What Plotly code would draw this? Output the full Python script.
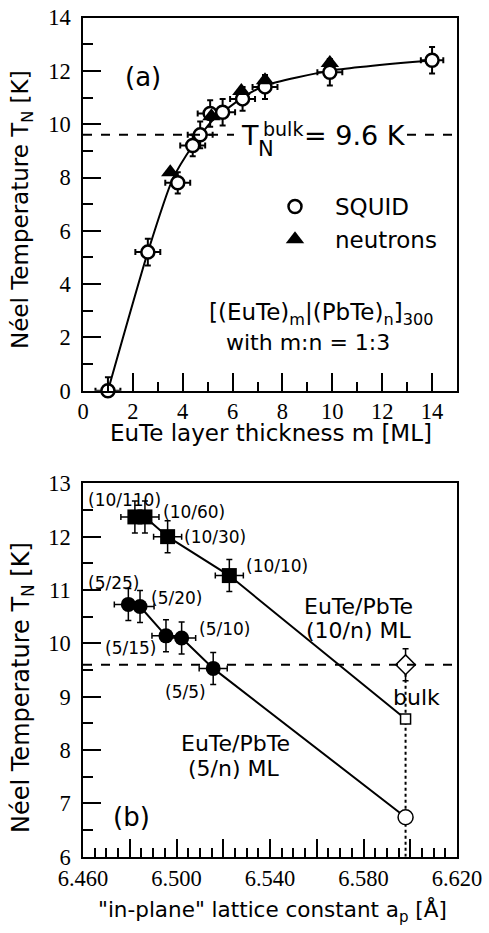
import plotly.graph_objects as go
import numpy as np

# ---------------- data: panel (a) ----------------
squid_m = [1.0, 2.6, 3.8, 4.4, 4.7, 5.1, 5.6, 6.4, 7.3, 9.9, 14.0]
squid_T = [0.0, 5.2, 7.8, 9.2, 9.6, 10.4, 10.45, 10.95, 11.4, 11.95, 12.4]
squid_xerr = [0.5, 0.5, 0.5, 0.5, 0.5, 0.5, 0.5, 0.5, 0.5, 0.5, 0.45]
squid_yerr = [0.5, 0.5, 0.4, 0.4, 0.5, 0.5, 0.5, 0.45, 0.45, 0.5, 0.5]
squid_yerr_minus = [0.0, 0.5, 0.4, 0.4, 0.5, 0.5, 0.5, 0.45, 0.45, 0.5, 0.5]

neut_m = [3.5, 5.15, 6.35, 7.3, 9.9]
neut_T = [8.2, 10.3, 11.25, 11.65, 12.3]

guide_m = [1.0, 2.6, 3.6, 4.4, 4.8, 5.2, 5.6, 6.4, 7.3, 10.0, 14.0]
guide_T = [0.0, 5.2, 7.95, 9.2, 9.7, 10.15, 10.45, 11.0, 11.45, 12.02, 12.4]

bulk_TN = 9.6

# ---------------- data: panel (b) ----------------
sq_a = [6.4822, 6.4865, 6.4962, 6.5226]
sq_T = [12.37, 12.37, 12.0, 11.27]
sq_labels = ["(10/110)", "(10/60)", "(10/30)", "(10/10)"]

ci_a = [6.4794, 6.4844, 6.4955, 6.5022, 6.5157]
ci_T = [10.73, 10.69, 10.14, 10.10, 9.53]
ci_labels = ["(5/25)", "(5/20)", "(5/15)", "(5/10)", "(5/5)"]

b_xerr = 0.006
b_yerr = 0.3

bulk_a = 6.598
bulk_sq_T = 8.58   # extrapolated (10/n)
bulk_ci_T = 6.74   # extrapolated (5/n)

x2_labeled = [6.46, 6.50, 6.54, 6.58, 6.62]
x2_unlabeled = [6.48, 6.52, 6.56, 6.60]

W, H = 489, 933
SANS = "DejaVu Sans"
SERIF = "Liberation Serif"


def px(x):
    return x / W


def py(y):
    return 1 - y / H


fig = go.Figure()

# ---- panel (a) ----
fig.add_trace(go.Scatter(x=guide_m, y=guide_T, mode="lines",
                         line=dict(color="black", width=2, shape="spline", smoothing=0.6),
                         showlegend=False, xaxis="x", yaxis="y", hoverinfo="skip"))
fig.add_trace(go.Scatter(x=squid_m, y=squid_T, mode="markers", name="SQUID",
                         marker=dict(symbol="circle", size=13, color="white",
                                     line=dict(color="black", width=2.5)),
                         error_x=dict(type="data", array=squid_xerr, color="black", thickness=2, width=3),
                         error_y=dict(type="data", array=squid_yerr, arrayminus=squid_yerr_minus,
                                      color="black", thickness=2, width=3),
                         cliponaxis=False, xaxis="x", yaxis="y"))
fig.add_trace(go.Scatter(x=neut_m, y=neut_T, mode="markers", name="neutrons",
                         marker=dict(symbol="triangle-up", size=16, color="black"),
                         xaxis="x", yaxis="y"))

# ---- panel (b) ----
fig.add_trace(go.Scatter(x=sq_a + [bulk_a], y=sq_T + [bulk_sq_T], mode="lines",
                         line=dict(color="black", width=2), showlegend=False,
                         xaxis="x2", yaxis="y2", hoverinfo="skip"))
fig.add_trace(go.Scatter(x=ci_a + [bulk_a], y=ci_T + [bulk_ci_T], mode="lines",
                         line=dict(color="black", width=2), showlegend=False,
                         xaxis="x2", yaxis="y2", hoverinfo="skip"))
fig.add_trace(go.Scatter(x=[bulk_a, bulk_a], y=[6, bulk_TN], mode="lines",
                         line=dict(color="black", width=2, dash="dot"), showlegend=False,
                         xaxis="x2", yaxis="y2", hoverinfo="skip", cliponaxis=False))
fig.add_trace(go.Scatter(x=sq_a, y=sq_T, mode="markers", showlegend=False,
                         marker=dict(symbol="square", size=15, color="black"),
                         error_x=dict(type="constant", value=b_xerr, color="black", thickness=1.5, width=3),
                         error_y=dict(type="constant", value=b_yerr, color="black", thickness=1.5, width=3),
                         xaxis="x2", yaxis="y2"))
fig.add_trace(go.Scatter(x=ci_a, y=ci_T, mode="markers", showlegend=False,
                         marker=dict(symbol="circle", size=15, color="black"),
                         error_x=dict(type="constant", value=b_xerr, color="black", thickness=1.5, width=3),
                         error_y=dict(type="constant", value=b_yerr, color="black", thickness=1.5, width=3),
                         xaxis="x2", yaxis="y2"))
fig.add_trace(go.Scatter(x=[bulk_a], y=[bulk_TN], mode="markers", showlegend=False,
                         marker=dict(symbol="diamond", size=15, color="white",
                                     line=dict(color="black", width=1.5)),
                         error_y=dict(type="constant", value=b_yerr, color="black", thickness=1.5, width=3),
                         xaxis="x2", yaxis="y2"))
fig.add_trace(go.Scatter(x=[bulk_a], y=[bulk_sq_T], mode="markers", showlegend=False,
                         marker=dict(symbol="square", size=10, color="white",
                                     line=dict(color="black", width=1.5)),
                         xaxis="x2", yaxis="y2"))
fig.add_trace(go.Scatter(x=[bulk_a], y=[bulk_ci_T], mode="markers", showlegend=False,
                         marker=dict(symbol="circle", size=15, color="white",
                                     line=dict(color="black", width=1.5)),
                         xaxis="x2", yaxis="y2"))
# empty trace so the extra (unlabelled major tick) axis is drawn
fig.add_trace(go.Scatter(x=[], y=[], showlegend=False, xaxis="x3", yaxis="y2", hoverinfo="skip"))

axis_common = dict(showline=True, mirror=True, linecolor="black", linewidth=1.5,
                   ticks="inside", ticklen=18, tickwidth=1.5, tickcolor="black",
                   showgrid=False, zeroline=False, automargin=False,
                   tickfont=dict(family=SERIF, size=22.5, color="black"))

top_y = [py(390.7), py(17.6)]
bot_y = [py(856.7), py(483.3)]
xdom = [px(83), px(457)]

fig.update_layout(
    width=W, height=H, autosize=False, margin=dict(l=0, r=0, t=0, b=0, pad=0, autoexpand=False),
    paper_bgcolor="white", plot_bgcolor="white",
    xaxis=dict(axis_common, domain=xdom, anchor="y", range=[0, 15],
               tickvals=list(range(0, 15, 2)), ticklabelstandoff=0,
               minor=dict(dtick=1, tick0=0, ticks="inside", ticklen=9, tickwidth=1.5, tickcolor="black")),
    yaxis=dict(axis_common, domain=top_y, anchor="x", range=[0, 14],
               tickvals=list(range(0, 15, 2)), ticklabelstandoff=6,
               minor=dict(dtick=1, tick0=0, ticks="inside", ticklen=10, tickwidth=1.5, tickcolor="black")),
    xaxis2=dict(axis_common, domain=xdom, anchor="y2", range=[6.46, 6.62],
                tickvals=x2_labeled, tickformat=".3f", ticklabelstandoff=1,
                minor=dict(dtick=0.005, tick0=6.46, ticks="inside", ticklen=9, tickwidth=1.5, tickcolor="black")),
    xaxis3=dict(domain=xdom, anchor="y2", overlaying="x2", range=[6.46, 6.62], side="bottom",
                tickvals=x2_unlabeled, showticklabels=False, ticks="inside", ticklen=18,
                tickwidth=1.5, tickcolor="black", showline=False, showgrid=False, zeroline=False,
                automargin=False),
    yaxis2=dict(axis_common, domain=bot_y, anchor="x2", range=[6, 13],
                tickvals=list(range(6, 14)), ticklabelstandoff=6,
                minor=dict(dtick=0.5, tick0=6, ticks="inside", ticklen=10, tickwidth=1.5, tickcolor="black")),
    legend=dict(x=px(255), y=py(185), xanchor="left", yanchor="top",
                font=dict(family=SANS, size=23, color="black"),
                bgcolor="rgba(0,0,0,0)", tracegroupgap=0, itemwidth=70),
    showlegend=True,
)

# dashed bulk lines
fig.add_shape(type="line", xref="x domain", yref="y", x0=0, x1=1, y0=bulk_TN, y1=bulk_TN,
              line=dict(color="black", width=2, dash="dash"))
fig.add_shape(type="line", xref="x2 domain", yref="y2", x0=0, x1=1, y0=bulk_TN, y1=bulk_TN,
              line=dict(color="black", width=2, dash="dash"))
# white box behind the T_N^bulk label
fig.add_shape(type="rect", xref="paper", yref="paper", x0=px(234), x1=px(406), y0=py(142), y1=py(126),
              fillcolor="white", line=dict(width=0), layer="above")

ann = []


def A(text, x, y, size, xref="paper", yref="paper", family=SANS, **kw):
    d = dict(text=text, x=x, y=y, xref=xref, yref=yref, showarrow=False,
             xanchor="center", yanchor="middle",
             font=dict(family=family, size=size, color="black"))
    d.update(kw)
    ann.append(d)


# panel (a) texts
A("(a)", px(143), py(77), 26)
A("T", px(250), py(136), 27)
A("bulk", px(282.5), py(129), 19)
A("N", px(266), py(149), 21)
A("= 9.6 K", px(355), py(136), 27)
A("[(EuTe)<sub>m</sub>|(PbTe)<sub>n</sub>]<sub>300</sub>", px(321), py(314), 23)
A("with m:n = 1:3", px(308), py(343), 22)
A("EuTe layer thickness m [ML]", px(271), py(433), 23)
A("Néel Temperature T<sub>N</sub> [K]", px(22), py(210), 23, textangle=-90)

# panel (b) texts
lab_pos_sq = [(124, 500), (193.7, 511.7), (214.7, 537.3), (276.7, 566)]
for t, (xx, yy) in zip(sq_labels, lab_pos_sq):
    A(t, px(xx), py(yy), 17)
lab_pos_ci = [(113.8, 583.3), (176.7, 598.3), (130.8, 648.3), (224.7, 629.3), (185.8, 691.7)]
for t, (xx, yy) in zip(ci_labels, lab_pos_ci):
    A(t, px(xx), py(yy), 17)
A("EuTe/PbTe", px(358), py(606.7), 22)
A("(10/n) ML", px(358), py(630.7), 22)
A("EuTe/PbTe", px(235), py(743.3), 22)
A("(5/n) ML", px(233), py(768.3), 22)
A("bulk", px(416), py(697), 22)
A("(b)", px(131), py(816.7), 26)
A("\"in-plane\" lattice constant a<sub>p</sub> [Å]", px(272), py(911), 21.5)
A("Néel Temperature T<sub>N</sub> [K]", px(22), py(688), 24, textangle=-90)

fig.update_layout(annotations=ann)
fig.write_html("out.html", config={"displayModeBar": False},
               post_script="document.body.style.margin='0';")
